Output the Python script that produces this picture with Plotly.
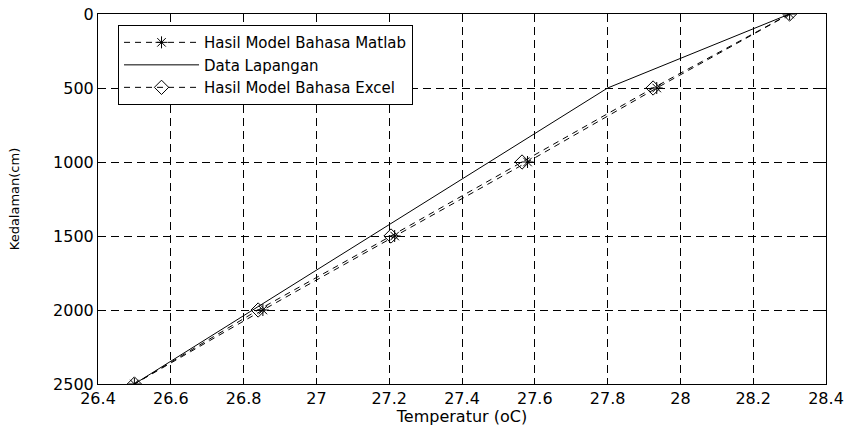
import plotly.graph_objects as go

depth = [0, 500, 1000, 1500, 2000, 2500]
temp_matlab = [28.30, 27.935, 27.58, 27.215, 26.853, 26.50]
temp_field = [28.30, 27.80, 27.475, 27.15, 26.825, 26.50]
temp_excel = [28.30, 27.925, 27.565, 27.205, 26.84, 26.50]

x_ticks = [26.4, 26.6, 26.8, 27.0, 27.2, 27.4, 27.6, 27.8, 28.0, 28.2, 28.4]
x_tick_labels = ["26.4", "26.6", "26.8", "27", "27.2", "27.4", "27.6", "27.8", "28", "28.2", "28.4"]
y_ticks = [0, 500, 1000, 1500, 2000, 2500]

FONT = "DejaVu Sans"

fig = go.Figure()
fig.add_trace(go.Scatter(
    x=temp_matlab, y=depth, mode="lines+markers", name="Hasil Model Bahasa Matlab",
    line=dict(color="black", width=1, dash="6px,5px"),
    marker=dict(symbol="asterisk-open", size=10, color="black", line=dict(color="black", width=1)),
))
fig.add_trace(go.Scatter(
    x=temp_field, y=depth, mode="lines", name="Data Lapangan",
    line=dict(color="black", width=1),
))
fig.add_trace(go.Scatter(
    x=temp_excel, y=depth, mode="lines+markers", name="Hasil Model Bahasa Excel",
    line=dict(color="black", width=1, dash="6px,5px"),
    marker=dict(symbol="diamond-open", size=11, color="black", line=dict(color="black", width=1)),
))

axis_common = dict(
    showline=True, linecolor="black", linewidth=1, mirror="allticks",
    ticks="inside", ticklen=5, tickcolor="black",
    showgrid=True, gridcolor="black", gridwidth=1, griddash="8px,5px",
    zeroline=False, automargin=False,
    tickfont=dict(family=FONT, size=16, color="black"),
)

fig.update_xaxes(
    range=[26.4, 28.4], tickvals=x_ticks, ticktext=x_tick_labels,
    title=dict(text="Temperatur (oC)", font=dict(family=FONT, size=16, color="black"), standoff=0),
    **axis_common,
)
fig.update_yaxes(
    range=[2500, 0], tickvals=y_ticks, ticktext=[str(v) for v in y_ticks],
    title=dict(text="Kedalaman(cm)", font=dict(family=FONT, size=13, color="black"), standoff=30),
    **axis_common,
)

fig.update_layout(
    width=848, height=426,
    margin=dict(l=98, r=22, t=14, b=42),
    paper_bgcolor="white", plot_bgcolor="white",
    showlegend=True,
    legend=dict(
        x=0.0275, y=0.97, xanchor="left", yanchor="top",
        bgcolor="white", bordercolor="black", borderwidth=1,
        font=dict(family=FONT, size=15, color="black"),
        itemwidth=75, tracegroupgap=0,
    ),
)

# remove the browser's default 8px page margin so the figure fills the window exactly
fig.write_html(
    "out.html",
    config={"displayModeBar": False},
    post_script="document.body.style.margin='0';",
)
